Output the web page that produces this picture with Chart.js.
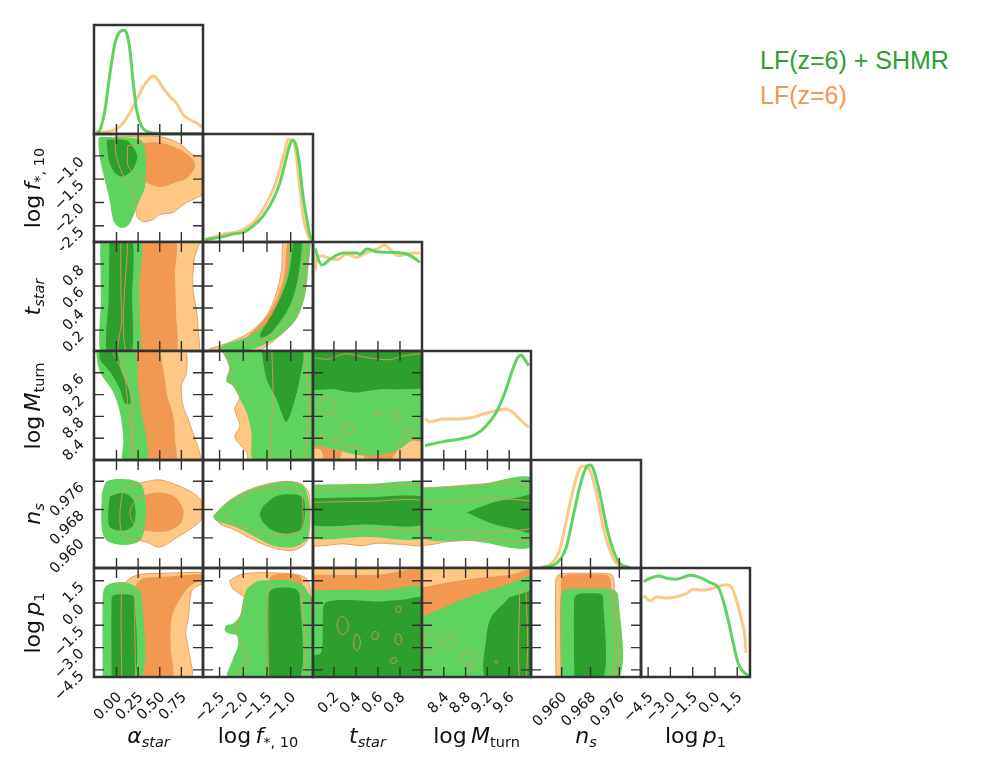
<!DOCTYPE html>
<html>
<head>
<meta charset="utf-8">
<script src="https://cdn.jsdelivr.net/npm/chart.js@4.4.1/dist/chart.umd.min.js"></script>
<style>
  html, body { margin: 0; padding: 0; background: #fff; }
  #fig { position: relative; width: 981px; height: 774px; overflow: hidden; font-family: "DejaVu Sans", sans-serif; }
  #fig canvas { position: absolute; }
  .xt, .yt { position: absolute; width: 160px; text-align: center; font-size: 22px; line-height: 22px; color: #111; white-space: nowrap; }
  .yt { transform: rotate(-90deg); }
  .leg { position: absolute; left: 760px; font-family: "Liberation Sans", Arial, sans-serif; font-size: 25px; line-height: 25px; white-space: nowrap; }
  sub { font-size: 66%; vertical-align: -0.3em; line-height: 0; }
</style>
</head>
<body>
<div id="fig"></div>
<script>
// ---- axes: one entry per parameter (alpha_star, log f*10, t_star, log Mturn, n_s, log p1)
const paramRanges  = [[-0.26, 1.0], [-2.85, -0.53], [0.01, 1.0], [8.0, 10.0], [0.9515, 0.982], [-4.98, 2.36]];
const paramTicks   = [[0, 0.25, 0.5, 0.75], [-2.5, -2.0, -1.5, -1.0], [0.2, 0.4, 0.6, 0.8], [8.4, 8.8, 9.2, 9.6], [0.960, 0.968, 0.976], [-4.5, -3.0, -1.5, 0.0, 1.5]];
const tickDecimals = [2, 1, 1, 1, 3, 1];
const paramTitles  = ['<i>α</i><sub><i>star</i></sub>', 'log&thinsp;<i>f</i><sub>*, 10</sub>', '<i>t</i><sub><i>star</i></sub>',
                      'log&thinsp;<i>M</i><sub>turn</sub>', '<i>n</i><sub><i>s</i></sub>', 'log&thinsp;<i>p</i><sub>1</sub>'];
const legendLabels = ['LF(z=6) + SHMR', 'LF(z=6)'];

// ---- 1D marginals (peak-normalised), diagonal panels
const d0_shmr_x = [-0.229, -0.19, -0.133, -0.075, -0.018, 0.04, 0.086, 0.117, 0.155, 0.194, 0.232, 0.29, 0.348, 0.425, 0.6, 1.0];
const d0_shmr_y = [0.016, 0.042, 0.234, 0.586, 0.874, 0.986, 1.0, 0.97, 0.81, 0.49, 0.234, 0.074, 0.026, 0.01, 0.005, 0.003];
const d0_lf_x   = [-0.229, -0.075, 0.04, 0.155, 0.232, 0.309, 0.386, 0.425, 0.463, 0.54, 0.617, 0.694, 0.771, 0.848, 0.925, 0.99];
const d0_lf_y   = [0.016, 0.026, 0.074, 0.202, 0.33, 0.458, 0.538, 0.56, 0.538, 0.442, 0.362, 0.298, 0.186, 0.138, 0.106, 0.067];

const d1_shmr_x = [-2.81, -2.50, -2.22, -2.0, -1.79, -1.58, -1.37, -1.23, -1.12, -1.02, -0.95, -0.88, -0.81, -0.74, -0.66, -0.61, -0.56];
const d1_shmr_y = [0.022, 0.045, 0.077, 0.093, 0.157, 0.254, 0.414, 0.575, 0.767, 0.944, 0.986, 0.928, 0.735, 0.446, 0.221, 0.093, 0.013];
const d1_lf_x   = [-2.81, -2.43, -2.07, -1.79, -1.58, -1.37, -1.23, -1.12, -1.05, -0.95, -0.89, -0.81, -0.74, -0.66, -0.59];
const d1_lf_y   = [0.022, 0.077, 0.109, 0.189, 0.318, 0.51, 0.703, 0.896, 0.998, 0.992, 0.863, 0.542, 0.254, 0.093, 0.022];

const d2_shmr_x = [0.031, 0.052, 0.091, 0.167, 0.287, 0.408, 0.438, 0.499, 0.589, 0.74, 0.861, 0.92, 0.981];
const d2_shmr_y = [0.989, 0.902, 0.828, 0.886, 0.944, 0.944, 0.934, 0.983, 0.957, 0.95, 0.934, 0.902, 0.854];
const d2_lf_x   = [0.031, 0.046, 0.091, 0.137, 0.227, 0.318, 0.408, 0.468, 0.589, 0.664, 0.709, 0.785, 0.861, 0.92, 0.981];
const d2_lf_y   = [0.774, 0.902, 0.918, 0.902, 0.88, 0.934, 0.902, 0.934, 0.983, 1.021, 0.983, 0.918, 0.934, 0.944, 0.944];

const d3_shmr_x = [8.055, 8.389, 8.693, 8.998, 9.18, 9.363, 9.545, 9.667, 9.758, 9.819, 9.88, 9.958];
const d3_shmr_y = [0.138, 0.177, 0.202, 0.25, 0.331, 0.459, 0.684, 0.877, 0.989, 1.011, 0.973, 0.909];
const d3_lf_x   = [8.055, 8.146, 8.389, 8.693, 8.937, 9.119, 9.363, 9.545, 9.667, 9.788, 9.958];
const d3_lf_y   = [0.395, 0.369, 0.395, 0.395, 0.411, 0.443, 0.475, 0.491, 0.459, 0.395, 0.315];

const d4_shmr_x = [0.95483, 0.95855, 0.96133, 0.96317, 0.96503, 0.96689, 0.96781, 0.96872, 0.97058, 0.97244, 0.97428, 0.97614, 0.97892];
const d4_shmr_y = [0.006, 0.045, 0.207, 0.499, 0.791, 0.985, 1.001, 0.969, 0.726, 0.402, 0.175, 0.045, 0.006];
const d4_lf_x   = [0.95392, 0.95669, 0.95947, 0.96133, 0.96317, 0.96503, 0.96642, 0.96781, 0.96967, 0.9715, 0.97336, 0.97522, 0.978];
const d4_lf_y   = [0.006, 0.029, 0.175, 0.467, 0.758, 0.969, 0.992, 0.953, 0.726, 0.402, 0.175, 0.045, 0.006];

const d5_shmr_x = [-4.80, -4.36, -3.80, -3.24, -2.56, -1.67, -1.0, -0.33, 0.23, 0.56, 0.90, 1.24, 1.57, 1.91, 2.31];
const d5_shmr_y = [0.92, 0.951, 0.974, 0.951, 0.942, 0.98, 0.958, 0.91, 0.862, 0.735, 0.544, 0.321, 0.13, 0.051, 0.01];
const d5_lf_x   = [-4.80, -4.36, -3.91, -3.24, -2.56, -1.89, -1.45, -1.0, -0.33, 0.34, 0.79, 1.13, 1.46, 1.80, 2.02, 2.09];
const d5_lf_y   = [0.783, 0.735, 0.773, 0.76, 0.773, 0.805, 0.846, 0.837, 0.846, 0.878, 0.888, 0.862, 0.735, 0.544, 0.385, 0.232];

// ---- 2D credible regions, [x, y] vertices; cRC = row R (y param), column C (x param)
// lo/do = LF(z=6) 95%/68%, lg/dg = LF+SHMR 95%/68%
const c10_lo = [[-0.02,-0.59],[0.50,-0.59],[0.73,-0.74],[0.88,-0.97],[1.02,-1.08],[1.02,-1.79],[0.96,-1.87],[0.81,-2.0],[0.73,-2.11],[0.65,-2.22],[0.50,-2.26],[0.42,-2.37],[0.31,-2.41],[0.24,-2.32],[0.22,-2.04],[0.18,-1.68],[0.10,-1.51],[0.0,-1.02]];
const c10_do = [[0.13,-0.78],[0.47,-0.72],[0.73,-0.87],[0.88,-1.08],[0.90,-1.25],[0.81,-1.47],[0.70,-1.55],[0.50,-1.66],[0.35,-1.57],[0.27,-1.51],[0.19,-1.36],[0.13,-1.19]];
const c10_lg = [[-0.19,-0.59],[0.27,-0.65],[0.33,-0.87],[0.33,-1.66],[0.27,-1.94],[0.21,-2.22],[0.16,-2.43],[0.10,-2.54],[0.02,-2.52],[-0.04,-2.37],[-0.08,-1.94],[-0.19,-1.08],[-0.21,-0.65]];
const c10_dg = [[-0.11,-0.65],[0.12,-0.67],[0.21,-0.87],[0.24,-1.02],[0.19,-1.29],[0.07,-1.44],[-0.02,-1.36],[-0.08,-1.15],[-0.11,-0.80]];

const c20_lo = [[0.05,1.05],[0.95,1.05],[0.90,0.85],[0.88,0.6],[0.92,0.4],[0.94,0.25],[0.92,-0.05],[0.05,-0.05],[0.06,0.3],[0.05,0.6]];
const c20_do = [[0.13,1.05],[0.66,1.05],[0.67,0.7],[0.68,0.4],[0.66,-0.05],[0.13,-0.05]];
const c20_lg = [[-0.19,1.05],[0.27,1.05],[0.26,0.6],[0.27,0.3],[0.25,-0.05],[-0.16,-0.05],[-0.18,0.5]];
const c20_dg = [[-0.08,1.05],[0.17,1.05],[0.18,0.5],[0.16,-0.05],[-0.10,-0.05],[-0.09,0.5]];

const c21_lo = [[-2.71,0.03],[-2.29,0.09],[-1.86,0.18],[-1.51,0.33],[-1.30,0.54],[-1.19,0.755],[-1.12,1.05],[-0.63,1.05],[-0.66,0.755],[-0.74,0.51],[-0.91,0.30],[-1.23,0.15],[-1.72,0.01],[-2.75,0.0]];
const c21_do = [[-1.95,0.12],[-1.45,0.35],[-1.15,0.65],[-1.02,1.05],[-0.72,1.05],[-0.80,0.65],[-1.0,0.35],[-1.5,0.13],[-1.95,0.08]];
const c21_lg = [[-2.6,0.0],[-2.43,0.06],[-1.86,0.15],[-1.44,0.30],[-1.19,0.54],[-1.05,0.755],[-0.98,1.05],[-0.61,1.05],[-0.63,0.755],[-0.70,0.51],[-0.88,0.30],[-1.23,0.15],[-1.72,0.04],[-2.29,0.0]];
const c21_dg = [[-1.65,0.16],[-1.30,0.42],[-1.05,0.69],[-0.91,1.05],[-0.77,1.05],[-0.84,0.69],[-1.02,0.42],[-1.40,0.18],[-1.62,0.13]];

const c30_lo = [[-0.06,10.05],[0.77,10.05],[0.81,9.61],[0.75,9.36],[0.77,8.99],[0.83,8.75],[0.88,8.51],[0.96,8.14],[0.96,7.95],[0.22,7.95],[0.19,9.12]];
const c30_do = [[0.06,10.05],[0.46,10.05],[0.54,9.61],[0.58,9.18],[0.65,8.81],[0.67,8.38],[0.67,7.95],[0.27,7.95]];
const c30_lg = [[-0.23,10.05],[0.19,10.05],[0.25,9.36],[0.29,8.87],[0.35,8.38],[0.35,7.95],[0.08,7.95],[0.08,8.38],[0.04,8.87],[-0.04,9.25],[-0.19,9.61],[-0.23,9.9]];
const c30_dg = [[-0.19,10.05],[-0.02,10.05],[0.06,9.61],[0.14,9.30],[0.16,9.03],[0.10,9.03],[0.04,9.30],[-0.07,9.61],[-0.19,9.85]];

const c31_lo = [[-2.45,10.05],[-0.5,10.05],[-0.5,7.95],[-1.86,7.95],[-1.93,8.14],[-2.11,8.32],[-2.18,8.44],[-2.07,8.63],[-2.18,8.93],[-2.07,9.18],[-2.25,9.45],[-2.30,9.73]];
const c31_do = [[-1.4,10.05],[-0.74,10.05],[-0.74,7.95],[-1.37,7.95],[-1.37,9.2]];
const c31_lg = [[-2.50,10.05],[-0.5,10.05],[-0.5,7.95],[-1.76,7.95],[-1.83,8.51],[-1.93,8.87],[-2.07,9.12],[-2.22,9.36],[-2.36,9.45],[-2.29,9.73]];
const c31_dg = [[-1.62,10.05],[-0.77,10.05],[-0.81,9.49],[-0.95,8.99],[-1.08,8.70],[-1.14,8.75],[-1.30,9.12],[-1.51,9.49]];

const c32_lo = [[-0.05,10.05],[1.05,10.05],[1.05,7.95],[-0.05,7.95]];
const c32_do = [[-0.05,9.9],[0.15,9.85],[0.3,9.95],[0.5,9.88],[0.7,9.84],[0.85,9.92],[1.05,9.9],[1.05,8.38],[0.83,8.38],[0.78,8.2],[0.68,7.95],[0.5,7.95],[0.45,8.2],[0.3,8.25],[0.23,7.95],[0.13,7.95],[0.08,8.2],[-0.05,8.25]];
const c32_lg = [[-0.05,10.05],[1.05,10.05],[1.05,8.4],[0.9,8.35],[0.8,8.2],[0.65,8.1],[0.5,8.08],[0.35,8.12],[0.2,8.2],[0.1,8.25],[-0.05,8.3]];
const c32_dg = [[-0.05,10.05],[1.05,10.05],[1.05,9.37],[0.83,9.30],[0.62,9.30],[0.39,9.24],[0.2,9.30],[-0.05,9.33]];
const c32_isl = [
  [[0.09,9.15],[0.17,9.12],[0.22,8.95],[0.16,8.82],[0.09,8.88],[0.07,9.0]],
  [[0.28,8.66],[0.36,8.64],[0.38,8.55],[0.33,8.5],[0.27,8.56]],
  [[0.74,8.92],[0.78,8.9],[0.8,8.75],[0.77,8.68],[0.74,8.72],[0.73,8.82]],
  [[0.83,8.55],[0.9,8.57],[0.93,8.5],[0.88,8.45],[0.82,8.47]],
  [[0.58,8.86],[0.62,8.86],[0.62,8.82],[0.58,8.82]],
  [[0.07,8.46],[0.11,8.47],[0.12,8.42],[0.08,8.40]],
  [[0.18,8.42],[0.26,8.4],[0.27,8.33],[0.2,8.31]]
];

const c40_lo = [[0.08,0.9741],[0.31,0.9757],[0.50,0.9764],[0.73,0.9746],[0.885,0.9727],[0.98,0.9704],[0.98,0.9653],[0.885,0.9630],[0.73,0.9606],[0.50,0.9574],[0.35,0.9588],[0.08,0.9606],[0.04,0.9672]];
const c40_do = [[0.23,0.9713],[0.46,0.9727],[0.655,0.9718],[0.75,0.9690],[0.77,0.9667],[0.73,0.9639],[0.58,0.9620],[0.39,0.9620],[0.23,0.9630],[0.155,0.9672]];
const c40_lg = [[-0.17,0.9727],[-0.11,0.9760],[0.08,0.9766],[0.27,0.9755],[0.33,0.9718],[0.33,0.9634],[0.27,0.9592],[0.08,0.9580],[-0.11,0.9592],[-0.17,0.9625]];
const c40_dg = [[-0.075,0.9718],[0.08,0.9727],[0.19,0.9709],[0.22,0.9672],[0.19,0.9634],[0.08,0.9620],[-0.075,0.9630],[-0.095,0.9672]];

const c41_lo = [[-2.55,0.9665],[-2.3,0.9705],[-1.9,0.9735],[-1.5,0.9752],[-1.09,0.9760],[-0.77,0.9752],[-0.62,0.9727],[-0.59,0.9662],[-0.66,0.9590],[-0.95,0.9565],[-1.37,0.9572],[-1.79,0.9595],[-2.22,0.9625],[-2.5,0.9640]];
const c41_do = [[-2.29,0.9681],[-1.86,0.9727],[-1.16,0.9741],[-0.81,0.9732],[-0.74,0.9672],[-0.81,0.9620],[-1.51,0.9611],[-2.07,0.9634],[-2.36,0.9658]];
const c41_lg = [[-2.64,0.9662],[-2.36,0.9699],[-1.93,0.9732],[-1.51,0.9750],[-1.09,0.9760],[-0.77,0.9750],[-0.66,0.9727],[-0.59,0.9662],[-0.66,0.9597],[-0.95,0.9574],[-1.37,0.9578],[-1.79,0.9606],[-2.22,0.9634],[-2.57,0.9648]];
const c41_dg = [[-1.58,0.9690],[-1.30,0.9718],[-0.95,0.9723],[-0.74,0.9713],[-0.70,0.9672],[-0.77,0.9625],[-1.02,0.9611],[-1.37,0.9620],[-1.58,0.9644],[-1.65,0.9667]];

const c42_lo = [[-0.05,0.9740],[0.5,0.9741],[1.05,0.9739],[1.05,0.9585],[0.8,0.9582],[0.6,0.9585],[0.45,0.9578],[0.3,0.9583],[-0.05,0.9586]];
const c42_do = [[-0.05,0.9700],[0.5,0.9703],[1.05,0.9701],[1.05,0.9630],[0.5,0.9628],[-0.05,0.9631]];
const c42_lg = [[-0.05,0.9750],[0.5,0.9752],[1.05,0.9749],[1.05,0.9605],[0.5,0.9603],[-0.05,0.9607]];
const c42_dg = [[-0.05,0.9712],[0.5,0.9715],[1.05,0.9712],[1.05,0.9640],[0.5,0.9638],[-0.05,0.9641]];

const c43_lo = [[7.95,0.9741],[10.05,0.9741],[10.05,0.9602],[9.2,0.9597],[8.5,0.9590],[7.95,0.9586]];
const c43_do = [[7.95,0.9700],[10.05,0.9702],[10.05,0.9628],[7.95,0.9632]];
const c43_lg = [[7.95,0.9741],[9.0,0.9750],[10.05,0.9766],[10.05,0.9578],[9.0,0.9590],[7.95,0.9606]];
const c43_dg = [[8.82,0.9672],[9.3,0.9700],[9.7,0.9712],[10.05,0.9718],[10.05,0.9616],[9.7,0.9625],[9.3,0.9640]];

const c50_lo = [[0.06,-5.1],[0.06,0.8],[0.12,1.5],[0.25,1.9],[0.5,2.0],[1.05,2.0],[1.05,1.5],[0.885,0.96],[0.85,0.31],[0.83,-1.06],[0.80,-1.96],[0.83,-3.08],[0.85,-5.1]];
const c50_do = [[0.22,-5.1],[0.22,1.0],[0.3,1.6],[0.6,1.75],[0.96,1.9],[1.05,1.8],[0.85,1.19],[0.73,0.29],[0.65,-0.61],[0.62,-1.51],[0.62,-3.0],[0.63,-5.1]];
const c50_lg = [[-0.16,-5.1],[-0.16,0.4],[-0.14,1.0],[-0.075,1.30],[0.08,1.41],[0.23,1.07],[0.29,0.5],[0.29,-5.1]];
const c50_dg = [[-0.056,-5.1],[-0.056,0.3],[-0.03,0.55],[0.18,0.55],[0.21,0.3],[0.21,-5.1]];

const c51_lo = [[-2.29,1.52],[-2.0,1.98],[-1.02,1.98],[-0.66,1.64],[-0.58,0.5],[-0.58,-5.1],[-2.22,-5.1],[-2.22,-4.88],[-1.93,-4.21],[-2.0,-2.86],[-2.14,-1.96],[-2.07,-1.06],[-1.97,0.29],[-2.22,0.96]];
const c51_do = [[-1.47,-5.1],[-1.47,1.3],[-1.4,1.8],[-1.1,1.95],[-0.8,1.75],[-0.76,1.0],[-0.76,-5.1]];
const c51_lg = [[-1.93,0.96],[-1.72,1.45],[-1.58,1.52],[-1.02,1.52],[-0.74,1.19],[-0.59,0.51],[-0.5,0.3],[-0.5,-5.1],[-2.32,-5.1],[-2.22,-3.76],[-2.11,-2.86],[-2.14,-2.19],[-2.29,-2.07],[-2.39,-1.85],[-2.36,-1.51],[-2.22,-1.40],[-2.07,-0.84],[-2.0,0.29]];
const c51_dg = [[-1.48,-5.1],[-1.48,0.5],[-1.40,0.9],[-1.2,1.05],[-0.9,0.95],[-0.81,0.5],[-0.81,-5.1]];

const c52_lo = [[-0.05,2.3],[0.5,2.3],[1.05,2.35],[1.05,-5.1],[-0.05,-5.1]];
const c52_do = [[-0.05,1.9],[0.3,1.85],[0.6,1.88],[1.05,1.95],[1.05,-5.1],[-0.05,-5.1]];
const c52_lg = [[-0.05,0.85],[0.3,0.9],[0.6,0.85],[1.05,0.9],[1.05,-5.1],[-0.05,-5.1]];
const c52_dg = [[-0.05,-5.1],[-0.05,-3.6],[0.08,-3.4],[0.1,-1.0],[0.12,0.0],[0.3,0.2],[0.6,0.1],[0.8,0.2],[1.05,0.25],[1.05,-5.1]];
const c52_isl = [
  [[0.227,-1.51],[0.25,-1.0],[0.29,-0.95],[0.329,-1.4],[0.31,-2.0],[0.26,-2.07]],
  [[0.378,-2.64],[0.40,-2.1],[0.43,-2.3],[0.438,-2.8],[0.41,-3.2],[0.385,-3.0]],
  [[0.544,-2.19],[0.56,-1.95],[0.59,-1.95],[0.604,-2.2],[0.585,-2.45],[0.555,-2.42]],
  [[0.761,-0.43],[0.775,-0.23],[0.8,-0.25],[0.809,-0.45],[0.79,-0.64],[0.77,-0.6]],
  [[0.755,-2.45],[0.77,-2.13],[0.8,-2.15],[0.815,-2.5],[0.795,-2.79],[0.765,-2.7]],
  [[0.71,-3.87],[0.73,-3.7],[0.76,-3.72],[0.77,-3.9],[0.75,-4.05],[0.72,-4.02]]
];

const c53_lo = [[7.95,2.3],[10.05,2.35],[10.05,-5.1],[7.95,-5.1]];
const c53_do = [[7.95,0.96],[8.39,1.30],[9.0,1.64],[9.61,1.86],[10.05,2.1],[10.05,-5.1],[7.95,-5.1]];
const c53_lg = [[7.95,-0.9],[8.05,-0.84],[8.27,-0.50],[8.69,0.17],[9.12,0.73],[9.61,1.30],[10.05,1.75],[10.05,-5.1],[7.95,-5.1]];
const c53_dg = [[9.61,0.40],[9.8,0.6],[10.05,0.74],[10.05,-5.1],[9.18,-5.1],[9.18,-2.3],[9.27,-0.95],[9.55,0.17]];
const c53_isl = [
  [[8.05,-2.2],[8.15,-2.05],[8.28,-2.3],[8.3,-2.9],[8.2,-3.4],[8.08,-3.2]],
  [[8.42,-2.6],[8.5,-2.25],[8.6,-2.3],[8.63,-2.7],[8.55,-2.95],[8.45,-2.9]],
  [[8.69,-3.6],[8.8,-3.3],[8.95,-3.4],[9.0,-3.8],[8.85,-4.0],[8.72,-3.9]],
  [[8.85,-4.3],[8.9,-4.2],[8.95,-4.35],[8.9,-4.5]],
  [[9.33,-3.95],[9.36,-3.85],[9.39,-3.95],[9.36,-4.05]],
  [[9.79,0.6],[9.85,0.9],[9.91,0.6],[9.91,-5.1],[9.79,-5.1]]
];

const c54_lo = [[0.9584,-5.1],[0.9584,1.6],[0.9595,1.95],[0.9665,2.0],[0.9735,1.95],[0.9745,1.6],[0.9745,-5.1]];
const c54_do = [[0.9600,-5.1],[0.9600,1.5],[0.9610,1.85],[0.9665,1.9],[0.9725,1.85],[0.9735,1.5],[0.9735,-5.1]];
const c54_lg = [[0.9597,-5.1],[0.9597,0.5],[0.9610,0.9],[0.9680,0.98],[0.9745,0.9],[0.9757,0.5],[0.9757,-5.1]];
const c54_dg = [[0.9635,-5.1],[0.9635,0.3],[0.9645,0.6],[0.9680,0.65],[0.9710,0.6],[0.9715,0.3],[0.9715,-5.1]];

// ---- lookup tables built from the arrays above
const diagCurves = [
  [d0_shmr_x, d0_shmr_y, d0_lf_x, d0_lf_y], [d1_shmr_x, d1_shmr_y, d1_lf_x, d1_lf_y],
  [d2_shmr_x, d2_shmr_y, d2_lf_x, d2_lf_y], [d3_shmr_x, d3_shmr_y, d3_lf_x, d3_lf_y],
  [d4_shmr_x, d4_shmr_y, d4_lf_x, d4_lf_y], [d5_shmr_x, d5_shmr_y, d5_lf_x, d5_lf_y]
];
const contours = {
  '1,0': [c10_lo, c10_do, c10_lg, c10_dg, []],
  '2,0': [c20_lo, c20_do, c20_lg, c20_dg, []],
  '2,1': [c21_lo, c21_do, c21_lg, c21_dg, []],
  '3,0': [c30_lo, c30_do, c30_lg, c30_dg, []],
  '3,1': [c31_lo, c31_do, c31_lg, c31_dg, []],
  '3,2': [c32_lo, c32_do, c32_lg, c32_dg, c32_isl],
  '4,0': [c40_lo, c40_do, c40_lg, c40_dg, []],
  '4,1': [c41_lo, c41_do, c41_lg, c41_dg, []],
  '4,2': [c42_lo, c42_do, c42_lg, c42_dg, []],
  '4,3': [c43_lo, c43_do, c43_lg, c43_dg, []],
  '5,0': [c50_lo, c50_do, c50_lg, c50_dg, []],
  '5,1': [c51_lo, c51_do, c51_lg, c51_dg, []],
  '5,2': [c52_lo, c52_do, c52_lg, c52_dg, c52_isl],
  '5,3': [c53_lo, c53_do, c53_lg, c53_dg, c53_isl],
  '5,4': [c54_lo, c54_do, c54_lg, c54_dg, []]
};

const LF_LIGHT = '#fec784', LF_DARK = '#f39850', SH_LIGHT = '#5ed35e', SH_DARK = '#2c9f2c', EDGE = '#e3995a';

const fmt = (v, d) => v.toFixed(d).replace('-', '\u2212');
const ring = pts => pts.concat([pts[0]]);

// frame, inward ticks and rotated tick labels of one panel
const framePlugin = {
  id: 'frame',
  afterDatasetsDraw(chart, args, o) {
    const { ctx, chartArea: a, scales: { x, y } } = chart;
    const tl = 10;
    ctx.save();
    ctx.strokeStyle = '#333';
    ctx.lineWidth = 1.4;
    ctx.beginPath();
    o.xTicks.forEach(v => {
      const px = x.getPixelForValue(v);
      ctx.moveTo(px, a.bottom); ctx.lineTo(px, a.bottom - tl);
      if (!o.diag) { ctx.moveTo(px, a.top); ctx.lineTo(px, a.top + tl); }
    });
    if (!o.diag) {
      o.yTicks.forEach(v => {
        const py = y.getPixelForValue(v);
        ctx.moveTo(a.left, py); ctx.lineTo(a.left + tl, py);
        ctx.moveTo(a.right, py); ctx.lineTo(a.right - tl, py);
      });
    }
    ctx.stroke();
    ctx.lineWidth = 2.5;
    ctx.strokeRect(a.left, a.top, a.right - a.left, a.bottom - a.top);

    ctx.fillStyle = '#111';
    ctx.font = '14.5px "DejaVu Sans", sans-serif';
    ctx.textAlign = 'right';
    ctx.textBaseline = 'middle';
    if (o.xLabels) {
      o.xTicks.forEach(v => {
        ctx.save();
        ctx.translate(x.getPixelForValue(v) + 3, a.bottom + 18);
        ctx.rotate(-Math.PI / 4);
        ctx.fillText(fmt(v, o.xDec), 0, 0);
        ctx.restore();
      });
    }
    if (o.yLabels) {
      o.yTicks.forEach(v => {
        ctx.save();
        ctx.translate(a.left - 12, y.getPixelForValue(v) + 4);
        ctx.rotate(-Math.PI / 4);
        ctx.fillText(fmt(v, o.yDec), 0, 0);
        ctx.restore();
      });
    }
    ctx.restore();
  }
};

const fig = document.getElementById('fig');
const colX = j => Math.round(94 + j * 109.33);
const rowY = i => Math.round(25 + i * 108.67);

function fillSet(pts, color, order) {
  return { data: ring(pts), showLine: true, fill: 'shape', backgroundColor: color,
           borderColor: 'rgba(0,0,0,0)', borderWidth: 0, pointRadius: 0, tension: 0.3, order };
}
function edgeSet(pts, order, t) {
  return { data: ring(pts), showLine: true, fill: false, borderColor: EDGE,
           borderWidth: 0.9, pointRadius: 0, tension: t, order };
}

function panel(i, j) {
  const L = colX(j), R = colX(j + 1), T = rowY(i), B = rowY(i + 1);
  const padL = j === 0 && i > 0 ? L : (i === 5 ? 45 : 8), padR = 8, padT = 8, padB = i === 5 ? 60 : 8;
  const W = R - L + padL + padR, H = B - T + padT + padB;
  const cv = document.createElement('canvas');
  cv.width = W; cv.height = H;
  cv.style.left = (L - padL) + 'px';
  cv.style.top = (T - padT) + 'px';
  cv.style.width = W + 'px';
  cv.style.height = H + 'px';
  fig.appendChild(cv);

  const diag = i === j;
  let datasets, yRange;
  if (diag) {
    const [sx, sy, lx, ly] = diagCurves[j];
    yRange = [0, 1.05];
    datasets = [
      { data: sx.map((v, k) => [v, sy[k]]), showLine: true, borderColor: SH_LIGHT, borderWidth: 3,
        pointRadius: 0, cubicInterpolationMode: 'monotone', fill: false, order: 1 },
      { data: lx.map((v, k) => [v, ly[k]]), showLine: true, borderColor: LF_LIGHT, borderWidth: 3,
        pointRadius: 0, cubicInterpolationMode: 'monotone', fill: false, order: 2 }
    ];
  } else {
    const [lo, dk, lg, dg, isl] = contours[i + ',' + j];
    yRange = paramRanges[i];
    datasets = [
      fillSet(lo, LF_LIGHT, 10), fillSet(dk, LF_DARK, 9),
      fillSet(lg, SH_LIGHT, 8), fillSet(dg, SH_DARK, 7),
      edgeSet(lo, 2, 0.3), edgeSet(dk, 2, 0.3)
    ];
    isl.forEach(p => datasets.push(edgeSet(p, 1, 0.45)));
  }

  new Chart(cv, {
    type: 'scatter',
    data: { datasets },
    options: {
      responsive: false,
      animation: false,
      events: [],
      layout: { padding: { left: padL, right: padR, top: padT, bottom: padB } },
      scales: {
        x: { type: 'linear', min: paramRanges[j][0], max: paramRanges[j][1], display: false },
        y: { type: 'linear', min: yRange[0], max: yRange[1], display: false }
      },
      plugins: {
        legend: { display: false },
        tooltip: { enabled: false },
        frame: {
          diag,
          xTicks: paramTicks[j], yTicks: paramTicks[i],
          xDec: tickDecimals[j], yDec: tickDecimals[i],
          xLabels: i === 5, yLabels: j === 0 && i > 0
        }
      }
    },
    plugins: [framePlugin]
  });
}

for (let i = 0; i < 6; i++) {
  for (let j = 0; j <= i; j++) panel(i, j);
}

// axis titles
for (let k = 0; k < 6; k++) {
  const xt = document.createElement('div');
  xt.className = 'xt';
  xt.innerHTML = paramTitles[k];
  xt.style.left = ((colX(k) + colX(k + 1)) / 2 - 80) + 'px';
  xt.style.top = '725px';
  fig.appendChild(xt);
  if (k > 0) {
    const yt = document.createElement('div');
    yt.className = 'yt';
    yt.innerHTML = paramTitles[k];
    yt.style.left = (33 - 80) + 'px';
    yt.style.top = ((rowY(k) + rowY(k + 1)) / 2 - 11) + 'px';
    fig.appendChild(yt);
  }
}

// legend
[[legendLabels[0], SH_DARK, 48], [legendLabels[1], LF_DARK, 83]].forEach(([txt, col, top]) => {
  const d = document.createElement('div');
  d.className = 'leg';
  d.textContent = txt;
  d.style.color = col;
  d.style.top = top + 'px';
  fig.appendChild(d);
});
</script>
</body>
</html>
